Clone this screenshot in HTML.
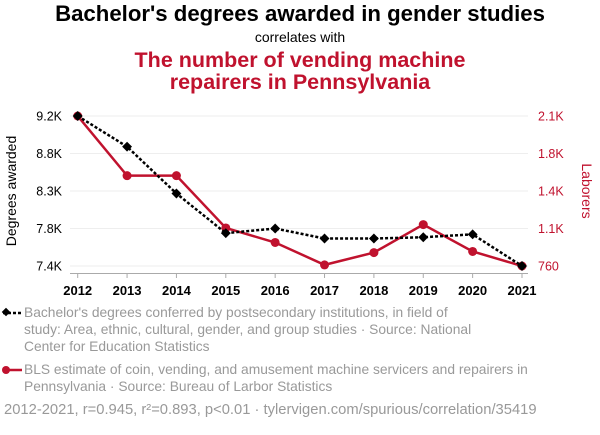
<!DOCTYPE html>
<html><head><meta charset="utf-8"><style>
body{margin:0;background:#fff;font-family:"Liberation Sans",sans-serif;}
svg text{font-family:"Liberation Sans",sans-serif;}
</style></head><body>
<svg id="c" width="600" height="430" xmlns="http://www.w3.org/2000/svg">
<text x="300" y="21" text-anchor="middle" font-size="22.2" font-weight="bold" fill="#000">Bachelor's degrees awarded in gender studies</text>
<text x="300" y="42" text-anchor="middle" font-size="14" fill="#000">correlates with</text>
<text x="300" y="67" text-anchor="middle" font-size="21.5" font-weight="bold" fill="#c0122e">The number of vending machine</text>
<text x="300" y="89" text-anchor="middle" font-size="21.5" font-weight="bold" fill="#c0122e">repairers in Pennsylvania</text>
<text transform="translate(16,191) rotate(-90)" text-anchor="middle" font-size="14" fill="#000">Degrees awarded</text>
<text transform="translate(582,191) rotate(90)" text-anchor="middle" font-size="14" fill="#c0122e">Laborers</text>
<g id="grid"></g><g id="axes"></g><g id="series"></g>
<g font-size="13.8" fill="#999">
<line x1="3" y1="313" x2="22" y2="313" stroke="#000" stroke-width="2.5" stroke-dasharray="3,2"/>
<rect x="3" y="309" width="6" height="6" transform="rotate(45 6 312)" fill="#000"/>
<text x="24" y="317">Bachelor's degrees conferred by postsecondary institutions, in field of</text>
<text x="24" y="334">study: Area, ethnic, cultural, gender, and group studies · Source: National</text>
<text x="24" y="351">Center for Education Statistics</text>
<line x1="3" y1="370" x2="22" y2="370" stroke="#c0122e" stroke-width="2.5"/>
<circle cx="6" cy="370" r="4" fill="#c0122e"/>
<text x="24" y="374">BLS estimate of coin, vending, and amusement machine servicers and repairers in</text>
<text x="24" y="391">Pennsylvania · Source: Bureau of Larbor Statistics</text>
<text x="4" y="414" font-size="14.75">2012-2021, r=0.945, r²=0.893, p&lt;0.01 · tylervigen.com/spurious/correlation/35419</text>
</g>
</svg>
<script>
const years=[2012,2013,2014,2015,2016,2017,2018,2019,2020,2021];
const degrees=[9200,8832,8270,7794,7850,7730,7730,7745,7780,7400];
const laborers=[2100,1567,1567,1100,970,770,880,1130,890,760];
const leftTicks=[9200,8750,8300,7850,7400];
const leftLabels=["9.2K","8.8K","8.3K","7.8K","7.4K"];
const rightTicks=[2100,1765,1430,1095,760];
const rightLabels=["2.1K","1.8K","1.4K","1.1K","760"];
const NS="http://www.w3.org/2000/svg";
const x=i=>77.7+(522-77.7)*(i/(years.length-1));
const yL=v=>116+(266-116)*(9200-v)/(9200-7400);
const yR=v=>116+(266-116)*(2100-v)/(2100-760);
function mk(t,a,p){const e=document.createElementNS(NS,t);for(const k in a)e.setAttribute(k,a[k]);p.appendChild(e);return e;}
const grid=document.getElementById('grid'),axes=document.getElementById('axes'),ser=document.getElementById('series');
leftTicks.forEach((v,i)=>{
 const g=mk('line',{x1:70,x2:528,y1:yL(v),y2:yL(v),stroke:'#eee'},grid);
 
 
 const t=mk('text',{x:62,y:yL(v)+4.5,'text-anchor':'end','font-size':12.5,fill:'#000'},axes);t.textContent=leftLabels[i];
 
 
});
rightTicks.forEach((v,i)=>{
 const t=mk('text',{x:538,y:yR(v)+4.5,'font-size':12.5,fill:'#c0122e'},axes);t.textContent=rightLabels[i];
 
 
});
const ax=mk('line',{x1:70,x2:528,y1:273.5,y2:273.5,stroke:'#aaa'},axes);


years.forEach((yr,i)=>{
 mk('line',{x1:x(i),x2:x(i),y1:273,y2:278,stroke:'#aaa'},axes);
 const t=mk('text',{x:x(i),y:295,'text-anchor':'middle','font-size':13,'font-weight':'bold',fill:'#000'},axes);t.textContent=yr;
 
 
});
const rl=mk('polyline',{points:laborers.map((v,i)=>x(i)+','+yR(v)).join(' '),fill:'none',stroke:'#c0122e','stroke-width':2.5},ser);


laborers.forEach((v,i)=>{const c=mk('circle',{cx:x(i),cy:yR(v),r:4.5,fill:'#c0122e'},ser);
 
 });
const bl=mk('polyline',{points:degrees.map((v,i)=>x(i)+','+yL(v)).join(' '),fill:'none',stroke:'#000','stroke-width':2.5,'stroke-dasharray':'3,2'},ser);


degrees.forEach((v,i)=>{const r=mk('rect',{x:x(i)-3.5,y:yL(v)-3.5,width:7,height:7,fill:'#000',transform:`rotate(45 ${x(i)} ${yL(v)})`},ser);
 
 });
</script>
</body></html>
